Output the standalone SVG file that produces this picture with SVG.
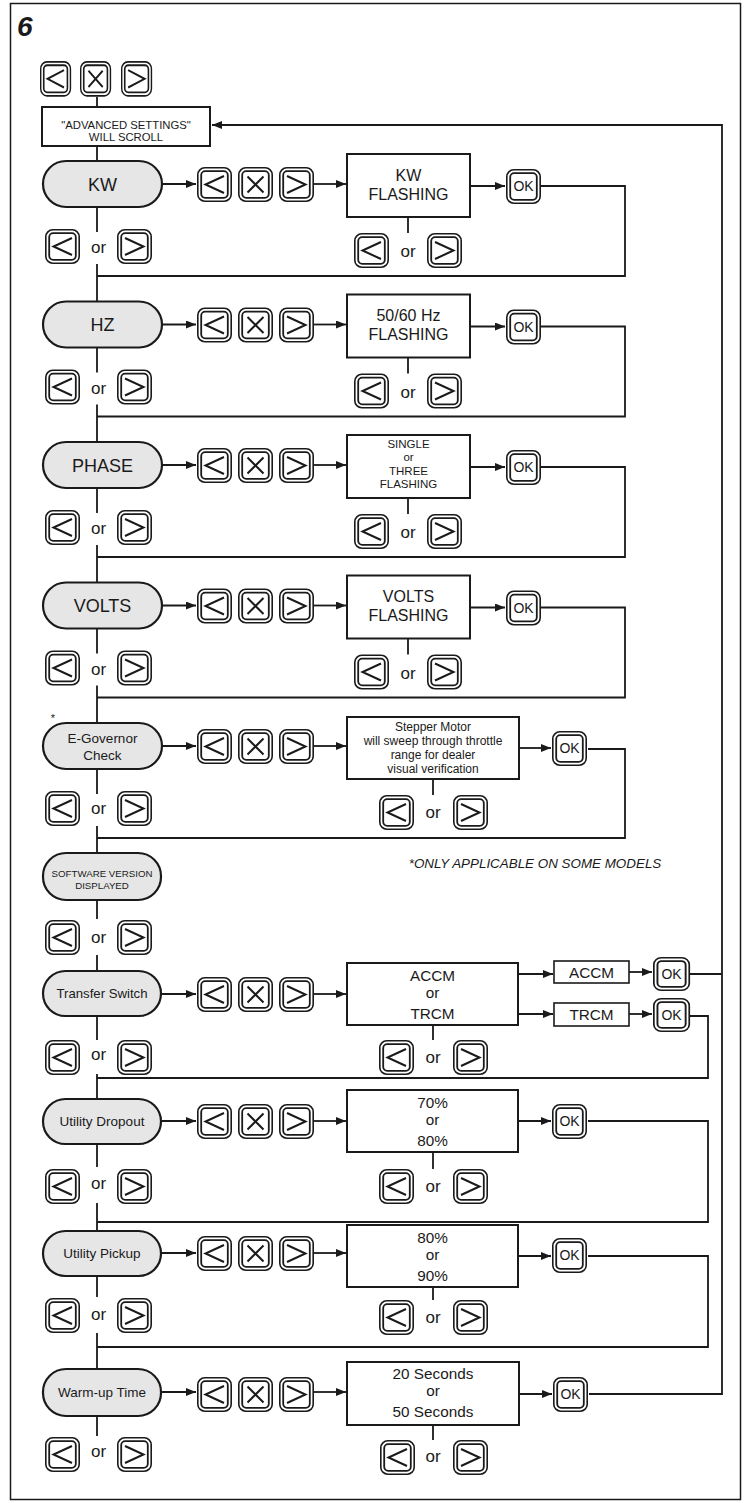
<svg xmlns="http://www.w3.org/2000/svg" xmlns:xlink="http://www.w3.org/1999/xlink" width="745" height="1503" viewBox="0 0 745 1503">
<style>
.frame{fill:none;stroke:#1a1a1a;stroke-width:1.5}
.pill{fill:#e6e6e6;stroke:#1a1a1a;stroke-width:2.2}
.box{fill:#fff;stroke:#1a1a1a;stroke-width:2}
.bo{fill:#fff;stroke:#1a1a1a;stroke-width:1.6}
.bi{fill:none;stroke:#1a1a1a;stroke-width:1.8}
.ic{fill:none;stroke:#1a1a1a;stroke-width:2}
.ln{fill:none;stroke:#1a1a1a;stroke-width:1.8}
.ar{marker-end:url(#ah)}
text{font-family:"Liberation Sans",Arial,sans-serif;fill:#1a1a1a;text-anchor:middle}
.t18{font-size:18px}
.t16{font-size:16px}
.t15{font-size:15.3px}
.t14{font-size:14px}
.t13{font-size:13.5px}
.t12{font-size:12px}
.or{font-size:17px}
</style>
<defs>
<marker id="ah" viewBox="0 0 10 8" refX="10" refY="4" markerWidth="10" markerHeight="8" markerUnits="userSpaceOnUse" orient="auto"><path d="M0 0 L10 4 L0 8 z" fill="#1a1a1a"/></marker>
<g id="kf"><rect class="bo" x="0.8" y="0.8" width="33.4" height="33.4" rx="7"/><rect class="bi" x="4.2" y="4.2" width="26.6" height="26.6" rx="4"/></g>
<g id="kL"><use href="#kf"/><path class="ic" d="M27 9 L8.5 17.5 L27 26"/></g>
<g id="kX"><use href="#kf"/><path class="ic" d="M9.5 9.5 L25.5 25.5 M25.5 9.5 L9.5 25.5"/></g>
<g id="kR"><use href="#kf"/><path class="ic" d="M8 9 L26.5 17.5 L8 26"/></g>
</defs>
<rect width="745" height="1503" fill="#fff"/>
<rect class="frame" x="10.5" y="3.5" width="730" height="1496"/>
<text x="17" y="36" style="font-size:28px;font-weight:bold;font-style:italic;text-anchor:start">6</text>

<g id="connectors">
<path class="ln" d="M97 97V107M97 146V161"/>
<path class="ln ar" d="M589 1394H722V125H212"/>
<!-- KW -->
<path class="ln ar" d="M162 184H196"/><path class="ln ar" d="M314 184H346"/><path class="ln ar" d="M470 186H505"/>
<path class="ln" d="M541 186H625V276H97M408 217V233M97 207V232M97 264V301.5"/>
<!-- HZ -->
<path class="ln ar" d="M162 324.5H196"/><path class="ln ar" d="M314 324.5H346"/><path class="ln ar" d="M470 326.5H505"/>
<path class="ln" d="M541 326.5H625V416.5H97M408 357.5V373.5M97 347.5V372.5M97 404.5V442"/>
<!-- PHASE -->
<path class="ln ar" d="M162 465H196"/><path class="ln ar" d="M314 465H346"/><path class="ln ar" d="M470 467H505"/>
<path class="ln" d="M541 467H625V557H97M408 498V514M97 488V513M97 545V582.5"/>
<!-- VOLTS -->
<path class="ln ar" d="M162 605.5H196"/><path class="ln ar" d="M314 605.5H346"/><path class="ln ar" d="M470 607.5H505"/>
<path class="ln" d="M541 607.5H625V697.5H97M408 638.5V654.5M97 628.5V653.5M97 685.5V723"/>
<!-- E-Gov -->
<path class="ln ar" d="M162 746H196"/><path class="ln ar" d="M314 746H346"/><path class="ln ar" d="M519 748H551"/>
<path class="ln" d="M588 749H625V838H97M433 779V795M97 769V794M97 826V853"/>
<!-- Software -->
<path class="ln" d="M97 900V919M97 955V971"/>
<!-- Transfer -->
<path class="ln ar" d="M161 994H196"/><path class="ln ar" d="M314 994H346"/>
<path class="ln ar" d="M518 974H553"/><path class="ln ar" d="M518 1014H553"/>
<path class="ln ar" d="M629 972H652"/><path class="ln ar" d="M629 1014H652"/>
<path class="ln" d="M690 974H722M690 1016H708V1078H97M433 1025V1040M97 1016V1040M97 1074V1099"/>
<!-- Dropout -->
<path class="ln ar" d="M161 1121H196"/><path class="ln ar" d="M314 1121H346"/><path class="ln ar" d="M518 1121H551"/>
<path class="ln" d="M588 1121H708V1222H97M433 1152V1169M97 1143V1167M97 1203V1231"/>
<!-- Pickup -->
<path class="ln ar" d="M161 1253H196"/><path class="ln ar" d="M314 1253H346"/><path class="ln ar" d="M518 1256H551"/>
<path class="ln" d="M588 1256H708V1347H97M433 1287V1300M97 1276V1297M97 1333V1369"/>
<!-- Warm-up -->
<path class="ln ar" d="M161 1392H196"/><path class="ln ar" d="M314 1392H346"/><path class="ln ar" d="M519 1394H552"/>
<path class="ln" d="M433 1425V1440M97 1416V1436"/>
</g>

<g id="top-keys">
<use href="#kL" transform="translate(40,61) scale(0.89,1.02)"/>
<use href="#kX" transform="translate(80,61) scale(0.89,1.02)"/>
<use href="#kR" transform="translate(121,61) scale(0.89,1.02)"/>
</g>
<g id="advanced">
<rect class="box" x="42" y="107" width="168" height="39"/>
<text x="126" y="129" style="font-size:11.3px">"ADVANCED SETTINGS"</text>
<text x="126" y="141" style="font-size:11.3px">WILL SCROLL</text>
</g>

<!-- KW -->
<g id="kw"><rect class="pill" x="43" y="161" width="119" height="46" rx="23"/><text class="t18" x="102.5" y="190.5">KW</text></g>
<g id="kw-keys"><use href="#kL" x="197" y="167"/><use href="#kX" x="238" y="167"/><use href="#kR" x="279" y="167"/></g>
<g id="kw-flash"><rect class="box" x="347" y="154" width="123" height="63"/><text class="t16" x="408.5" y="180.7">KW</text><text class="t16" x="408.5" y="199.7">FLASHING</text></g>
<g id="kw-ok"><use href="#kf" x="506" y="169"/><text class="t14" x="523.5" y="191">OK</text></g>
<g id="kw-sel"><use href="#kL" x="354" y="233"/><text class="or" x="408" y="257">or</text><use href="#kR" x="427" y="233"/></g>
<g id="kw-nav"><use href="#kL" x="45" y="229"/><text class="or" x="98.5" y="253">or</text><use href="#kR" x="117" y="229"/></g>

<!-- HZ -->
<g id="hz"><rect class="pill" x="43" y="301.5" width="119" height="46" rx="23"/><text class="t18" x="102.5" y="331">HZ</text></g>
<g id="hz-keys"><use href="#kL" x="197" y="307.5"/><use href="#kX" x="238" y="307.5"/><use href="#kR" x="279" y="307.5"/></g>
<g id="hz-flash"><rect class="box" x="347" y="294.5" width="123" height="63"/><text class="t16" x="408.5" y="321.2">50/60 Hz</text><text class="t16" x="408.5" y="340.2">FLASHING</text></g>
<g id="hz-ok"><use href="#kf" x="506" y="309.5"/><text class="t14" x="523.5" y="331.5">OK</text></g>
<g id="hz-sel"><use href="#kL" x="354" y="373.5"/><text class="or" x="408" y="397.5">or</text><use href="#kR" x="427" y="373.5"/></g>
<g id="hz-nav"><use href="#kL" x="45" y="369.5"/><text class="or" x="98.5" y="393.5">or</text><use href="#kR" x="117" y="369.5"/></g>

<!-- PHASE -->
<g id="phase"><rect class="pill" x="43" y="442" width="119" height="46" rx="23"/><text class="t18" x="102.5" y="471.5">PHASE</text></g>
<g id="phase-keys"><use href="#kL" x="197" y="448"/><use href="#kX" x="238" y="448"/><use href="#kR" x="279" y="448"/></g>
<g id="phase-flash"><rect class="box" x="347" y="435" width="123" height="63"/>
<text x="408.5" y="448" style="font-size:11.5px">SINGLE</text><text x="408.5" y="461" style="font-size:11.5px">or</text><text x="408.5" y="474.5" style="font-size:11.5px">THREE</text><text x="408.5" y="488" style="font-size:11.5px">FLASHING</text></g>
<g id="phase-ok"><use href="#kf" x="506" y="450"/><text class="t14" x="523.5" y="472">OK</text></g>
<g id="phase-sel"><use href="#kL" x="354" y="514"/><text class="or" x="408" y="538">or</text><use href="#kR" x="427" y="514"/></g>
<g id="phase-nav"><use href="#kL" x="45" y="510"/><text class="or" x="98.5" y="534">or</text><use href="#kR" x="117" y="510"/></g>

<!-- VOLTS -->
<g id="volts"><rect class="pill" x="43" y="582.5" width="119" height="46" rx="23"/><text class="t18" x="102.5" y="612">VOLTS</text></g>
<g id="volts-keys"><use href="#kL" x="197" y="588.5"/><use href="#kX" x="238" y="588.5"/><use href="#kR" x="279" y="588.5"/></g>
<g id="volts-flash"><rect class="box" x="347" y="575.5" width="123" height="63"/><text class="t16" x="408.5" y="602.2">VOLTS</text><text class="t16" x="408.5" y="621.2">FLASHING</text></g>
<g id="volts-ok"><use href="#kf" x="506" y="590.5"/><text class="t14" x="523.5" y="612.5">OK</text></g>
<g id="volts-sel"><use href="#kL" x="354" y="654.5"/><text class="or" x="408" y="678.5">or</text><use href="#kR" x="427" y="654.5"/></g>
<g id="volts-nav"><use href="#kL" x="45" y="650.5"/><text class="or" x="98.5" y="674.5">or</text><use href="#kR" x="117" y="650.5"/></g>

<!-- E-Governor -->
<g id="egov"><text x="53" y="722" style="font-size:11px">*</text><rect class="pill" x="43" y="723" width="119" height="46" rx="23"/><text class="t13" x="102.5" y="743">E-Governor</text><text class="t13" x="102.5" y="760">Check</text></g>
<g id="egov-keys"><use href="#kL" x="197" y="729"/><use href="#kX" x="238" y="729"/><use href="#kR" x="279" y="729"/></g>
<g id="egov-box"><rect class="box" x="347" y="717" width="172" height="62"/>
<text class="t12" x="433" y="731">Stepper Motor</text><text class="t12" x="433" y="745">will sweep through throttle</text><text class="t12" x="433" y="759">range for dealer</text><text class="t12" x="433" y="773">visual verification</text></g>
<g id="egov-ok"><use href="#kf" x="552" y="731"/><text class="t14" x="569.5" y="753">OK</text></g>
<g id="egov-sel"><use href="#kL" x="379" y="795"/><text class="or" x="433" y="818">or</text><use href="#kR" x="453" y="795"/></g>
<g id="egov-nav"><use href="#kL" x="45" y="791"/><text class="or" x="98.5" y="814">or</text><use href="#kR" x="117" y="791"/></g>
<text x="535" y="868" style="font-size:13.4px;font-style:italic">*ONLY APPLICABLE ON SOME MODELS</text>

<!-- Software -->
<g id="software"><rect class="pill" x="43" y="853" width="118" height="47" rx="23"/><text x="102" y="876.5" style="font-size:9.7px">SOFTWARE VERSION</text><text x="102" y="888.5" style="font-size:9.7px">DISPLAYED</text></g>
<g id="software-nav"><use href="#kL" x="45" y="920"/><text class="or" x="98.5" y="943">or</text><use href="#kR" x="117" y="920"/></g>

<!-- Transfer Switch -->
<g id="transfer"><rect class="pill" x="43" y="971" width="118" height="45" rx="22.5"/><text x="102" y="998" style="font-size:13.2px">Transfer Switch</text></g>
<g id="transfer-keys"><use href="#kL" x="197" y="977"/><use href="#kX" x="238" y="977"/><use href="#kR" x="279" y="977"/></g>
<g id="transfer-box"><rect class="box" x="347" y="963" width="171" height="62"/><text class="t15" x="432.5" y="980.5">ACCM</text><text class="t15" x="432.5" y="998">or</text><text class="t15" x="432.5" y="1018.5">TRCM</text></g>
<g id="accm"><rect class="box" x="554" y="961" width="75" height="22" style="stroke-width:1.6"/><text class="t15" x="591.5" y="977.5">ACCM</text></g>
<g id="trcm"><rect class="box" x="554" y="1003" width="75" height="23" style="stroke-width:1.6"/><text class="t15" x="591.5" y="1020">TRCM</text></g>
<g id="accm-ok"><use href="#kf" transform="translate(653,957) scale(1.06,0.97)"/><text class="t14" x="671.5" y="979">OK</text></g>
<g id="trcm-ok"><use href="#kf" transform="translate(653,998) scale(1.06,0.97)"/><text class="t14" x="671.5" y="1020">OK</text></g>
<g id="transfer-sel"><use href="#kL" x="379" y="1040"/><text class="or" x="433" y="1063">or</text><use href="#kR" x="453" y="1040"/></g>
<g id="transfer-nav"><use href="#kL" x="45" y="1040"/><text class="or" x="98.5" y="1060">or</text><use href="#kR" x="117" y="1040"/></g>

<!-- Utility Dropout -->
<g id="dropout"><rect class="pill" x="43" y="1099" width="118" height="45" rx="22.5"/><text class="t13" x="102" y="1126">Utility Dropout</text></g>
<g id="dropout-keys"><use href="#kL" x="197" y="1104"/><use href="#kX" x="238" y="1104"/><use href="#kR" x="279" y="1104"/></g>
<g id="dropout-box"><rect class="box" x="347" y="1090" width="171" height="62"/><text class="t15" x="432.5" y="1107.5">70%</text><text class="t15" x="432.5" y="1125">or</text><text class="t15" x="432.5" y="1145.5">80%</text></g>
<g id="dropout-ok"><use href="#kf" x="552" y="1104"/><text class="t14" x="569.5" y="1126">OK</text></g>
<g id="dropout-sel"><use href="#kL" x="379" y="1169"/><text class="or" x="433" y="1192">or</text><use href="#kR" x="453" y="1169"/></g>
<g id="dropout-nav"><use href="#kL" x="45" y="1169"/><text class="or" x="98.5" y="1189">or</text><use href="#kR" x="117" y="1169"/></g>

<!-- Utility Pickup -->
<g id="pickup"><rect class="pill" x="43" y="1231" width="118" height="45" rx="22.5"/><text class="t13" x="102" y="1258">Utility Pickup</text></g>
<g id="pickup-keys"><use href="#kL" x="197" y="1236"/><use href="#kX" x="238" y="1236"/><use href="#kR" x="279" y="1236"/></g>
<g id="pickup-box"><rect class="box" x="347" y="1225" width="171" height="62"/><text class="t15" x="432.5" y="1242.5">80%</text><text class="t15" x="432.5" y="1260">or</text><text class="t15" x="432.5" y="1280.5">90%</text></g>
<g id="pickup-ok"><use href="#kf" x="552" y="1238"/><text class="t14" x="569.5" y="1260">OK</text></g>
<g id="pickup-sel"><use href="#kL" x="379" y="1300"/><text class="or" x="433" y="1323">or</text><use href="#kR" x="453" y="1300"/></g>
<g id="pickup-nav"><use href="#kL" x="45" y="1298"/><text class="or" x="98.5" y="1320">or</text><use href="#kR" x="117" y="1298"/></g>

<!-- Warm-up -->
<g id="warmup"><rect class="pill" x="43" y="1369" width="118" height="47" rx="23"/><text class="t13" x="102" y="1397.3">Warm-up Time</text></g>
<g id="warmup-keys"><use href="#kL" x="197" y="1377"/><use href="#kX" x="238" y="1377"/><use href="#kR" x="279" y="1377"/></g>
<g id="warmup-box"><rect class="box" x="347" y="1362" width="172" height="63"/><text class="t15" x="433" y="1378.5">20 Seconds</text><text class="t15" x="433" y="1396">or</text><text class="t15" x="433" y="1416.5">50 Seconds</text></g>
<g id="warmup-ok"><use href="#kf" x="553" y="1377"/><text class="t14" x="570.5" y="1399">OK</text></g>
<g id="warmup-sel"><use href="#kL" x="380" y="1440"/><text class="or" x="433" y="1462">or</text><use href="#kR" x="453" y="1440"/></g>
<g id="warmup-nav"><use href="#kL" x="45" y="1437"/><text class="or" x="98.5" y="1457">or</text><use href="#kR" x="117" y="1437"/></g>
</svg>
